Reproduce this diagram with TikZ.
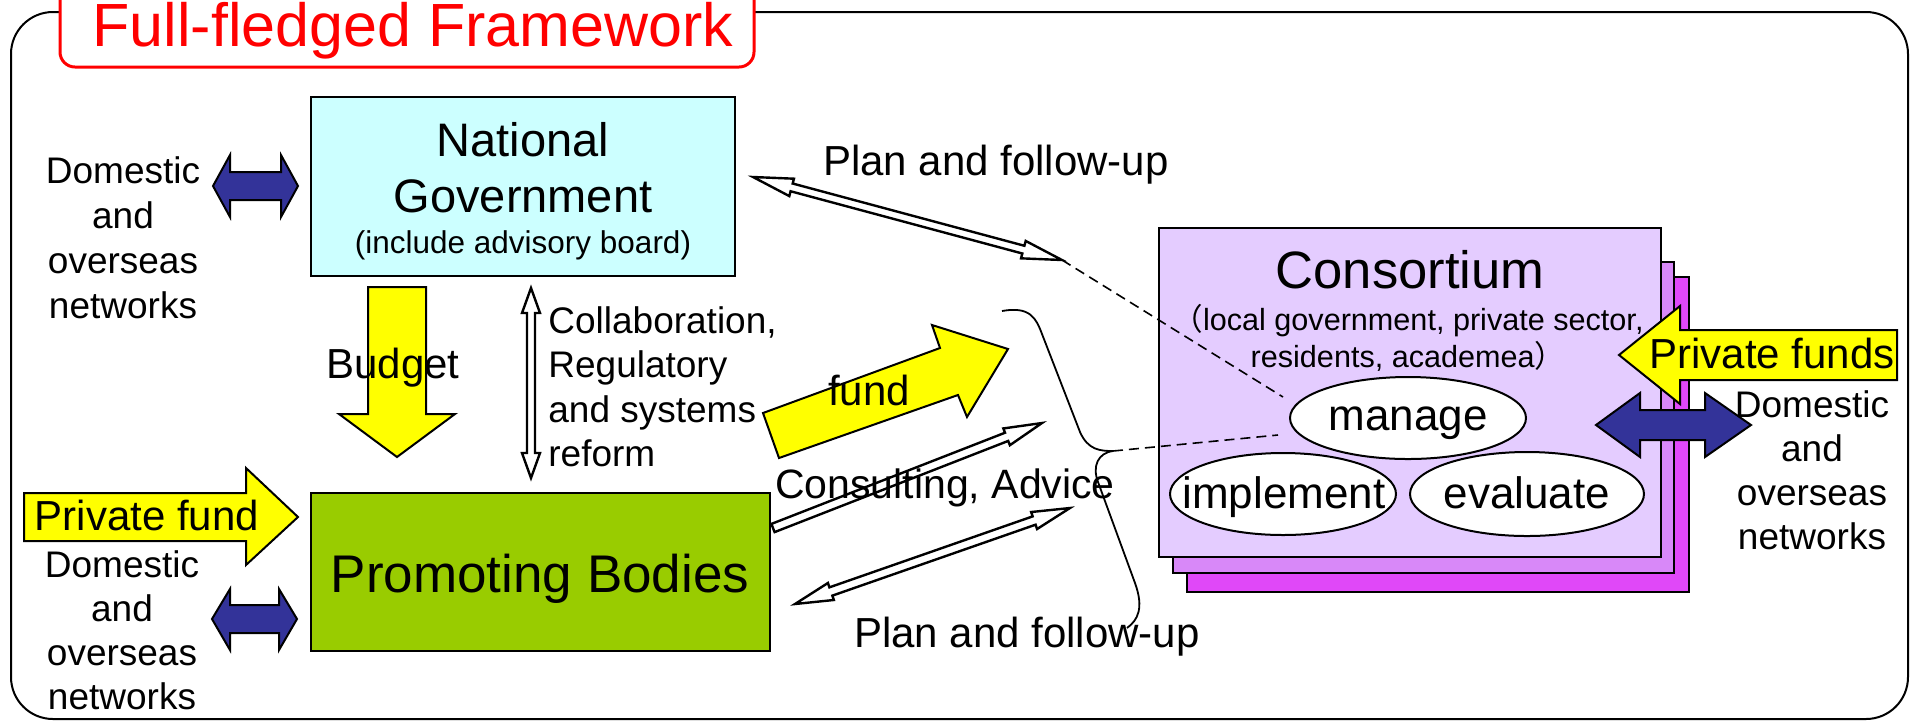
\documentclass[tikz,border=0pt]{standalone}
\usepackage{fontspec}
\setmainfont{Liberation Sans}
\newfontfamily\cjkfont{Noto Sans CJK JP}
\usetikzlibrary{calc,shapes.geometric}
\newcommand\fsz[2]{\fontsize{#1}{#2}\selectfont}
\newcommand\stk[2]{\begin{tabular}[t]{@{}#1@{}}#2\end{tabular}}
\definecolor{ngcyan}{HTML}{CCFFFF}
\definecolor{pbgreen}{HTML}{99CC00}
\definecolor{arrowyellow}{HTML}{FFFF00}
\definecolor{netblue}{HTML}{333399}
\definecolor{conA}{HTML}{E4CCFF}
\definecolor{conB}{HTML}{D888F8}
\definecolor{conC}{HTML}{E048F8}
\tikzset{
  frameline/.style={draw=black, line width=1pt, rounded corners=21pt},
  titlebox/.style={draw=red, line width=1.5pt, fill=white, rounded corners=7.5pt, inner sep=0},
  boxn/.style={draw=black, line width=1pt, inner sep=0},
  ellip/.style={ellipse, draw=black, line width=1pt, fill=white, inner sep=0},
  solidarrow/.style={draw=black, line width=1pt, line join=miter},
  hollow/.style={draw=black, fill=white, line width=1.2pt, line join=miter},
  dashln/.style={draw=black, line width=0.8pt, dash pattern=on 5pt off 3pt},
  bracestyle/.style={draw=black, line width=0.9pt},
  lbl/.style={anchor=base, inner sep=0, text=black},
}
% double-headed hollow arrow: #1,#2 end points, #3 head length, #4 head half width, #5 shaft half width
\newcommand\dblhollow[5]{%
  \coordinate (ha1) at ($(#1)!#3!(#2)$);
  \coordinate (hb1) at ($(#2)!#3!(#1)$);
  \draw[hollow] (#1) -- ($(ha1)!#4!90:(#2)$) -- ($(ha1)!#5!90:(#2)$)
    -- ($(hb1)!#5!-90:(#1)$) -- ($(hb1)!#4!-90:(#1)$) -- (#2)
    -- ($(hb1)!#4!90:(#1)$) -- ($(hb1)!#5!90:(#1)$)
    -- ($(ha1)!#5!-90:(#2)$) -- ($(ha1)!#4!-90:(#2)$) -- cycle;}
% single-headed hollow arrow from #1 (flat tail) to #2 (tip)
\newcommand\sglhollow[5]{%
  \coordinate (hb1) at ($(#2)!#3!(#1)$);
  \draw[hollow] ($(#1)!#5!90:(#2)$) -- ($(hb1)!#5!-90:(#1)$) -- ($(hb1)!#4!-90:(#1)$) -- (#2)
    -- ($(hb1)!#4!90:(#1)$) -- ($(hb1)!#5!90:(#1)$) -- ($(#1)!#5!-90:(#2)$) -- cycle;}
\begin{document}
\begin{tikzpicture}[x=0.5pt,y=-0.5pt]
\useasboundingbox (0,0) rectangle (1912,720);
% outer frame
\draw[frameline] (11,12) rectangle (1908,719);
% title
\node[titlebox, minimum width=347pt, minimum height=43.5pt] (titlebox) at (407,23.5) {};
\node[lbl, text=red] (title) at (413,46) {\fsz{30.5}{36}Full-fledged Framework};

% National Government
\node[boxn, fill=ngcyan, minimum width=212pt, minimum height=89.5pt] (ng) at (523,186.5) {};
\node[lbl] (ngname) at (523,156) {\fsz{23.5}{28}\stk{c}{National\\Government}};
\node[lbl] (ngsub) at (523,253) {\fsz{15.75}{19}(include advisory board)};

% Promoting Bodies
\node[boxn, fill=pbgreen, minimum width=229.5pt, minimum height=79pt] (pb) at (540.5,572) {};
\node[lbl] (pbname) at (540,592) {\fsz{26.5}{32}Promoting Bodies};

% Consortium stack
\node[boxn, fill=conC, minimum width=251pt, minimum height=157.5pt] (consC) at (1438,434.5) {};
\node[boxn, fill=conB, minimum width=250.5pt, minimum height=155.5pt] (consB) at (1423.5,417.5) {};
\node[boxn, fill=conA, minimum width=251pt, minimum height=164.5pt] (cons) at (1410,392.5) {};
\node[lbl] (consname) at (1410,288) {\fsz{26.3}{32}Consortium};
\node[lbl] (conssub) at (1408,330) {\fsz{15.3}{18.5}\stk{c}{{\cjkfont （}local government, private sector,\\residents, academea{\cjkfont ）}}};

% ellipses
\node[ellip, minimum width=118pt, minimum height=41pt] (manage) at (1408,418) {};
\node[lbl] (managetxt) at (1408,430) {\fsz{22}{26}manage};
\node[ellip, minimum width=113pt, minimum height=41pt] (implement) at (1283,494) {};
\node[lbl] (implementtxt) at (1284,508) {\fsz{22}{26}implement};
\node[ellip, minimum width=117pt, minimum height=42pt] (evaluate) at (1527,494) {};
\node[lbl] (evaluatetxt) at (1527,508) {\fsz{22}{26}evaluate};

% yellow arrows
\draw[solidarrow, fill=arrowyellow] (368,287) -- (426,287) -- (426,414) -- (455,414) -- (397,457) -- (339,414) -- (368,414) -- cycle;
\draw[solidarrow, fill=arrowyellow] (763,413) -- (940,348) -- (932,325) -- (1008,349) -- (967,417) -- (958,395) -- (779,458) -- cycle;
\draw[solidarrow, fill=arrowyellow] (24,493) -- (246,493) -- (246,468) -- (298,517) -- (246,565) -- (246,541) -- (24,541) -- cycle;
\draw[solidarrow, fill=arrowyellow] (1619,355) -- (1680,306) -- (1680,330) -- (1897,330) -- (1897,380) -- (1680,380) -- (1680,404) -- cycle;

% blue network arrows
\draw[solidarrow, fill=netblue] (213,186) -- (230,155) -- (230,172) -- (281,172) -- (281,155) -- (298,186) -- (281,217) -- (281,200) -- (230,200) -- (230,217) -- cycle;
\draw[solidarrow, fill=netblue] (212,619) -- (230,589) -- (230,605) -- (279,605) -- (279,589) -- (297,619) -- (279,650) -- (279,633) -- (230,633) -- (230,650) -- cycle;
\draw[solidarrow, fill=netblue] (1596,425) -- (1640,393) -- (1640,410) -- (1705,410) -- (1705,393) -- (1751,425) -- (1705,457) -- (1705,440) -- (1640,440) -- (1640,457) -- cycle;

% hollow arrows
\coordinate (planA) at (753,177);
\coordinate (planB) at (1062,260);
\coordinate (collA) at (531,288);
\coordinate (collB) at (531,478);
\coordinate (cnsT) at (773,528);
\coordinate (cnsH) at (1042,423);
\coordinate (plbA) at (795,604);
\coordinate (plbB) at (1070,508);
\dblhollow{planA}{planB}{20pt}{4.5pt}{2pt}
\dblhollow{collA}{collB}{12.5pt}{4.5pt}{2pt}
\sglhollow{cnsT}{cnsH}{19pt}{4.5pt}{2.2pt}
\dblhollow{plbA}{plbB}{19pt}{4.5pt}{2.2pt}

% dashed links and brace
\coordinate (bracetip) at (1113,451);
\coordinate (dashEndA) at (1283,397);
\coordinate (dashEndB) at (1278,435);
\draw[dashln] (planB) -- (dashEndA);
\draw[dashln] (bracetip) -- (dashEndB);
\draw[bracestyle] (1002,311) .. controls (1030,306) and (1036,318) .. (1042,334) -- (1080,432)
  .. controls (1088,450) and (1100,451) .. (bracetip)
  .. controls (1098,453) and (1092,466) .. (1098,482) -- (1135,583)
  .. controls (1144,608) and (1138,620) .. (1127,628);

% labels
\node[lbl] (domL1) at (123,183) {\fsz{18.5}{22.5}\stk{c}{Domestic\\and\\overseas\\networks}};
\node[lbl] (domL2) at (122,577) {\fsz{18.5}{22}\stk{c}{Domestic\\and\\overseas\\networks}};
\node[lbl] (domR) at (1812,417) {\fsz{18.5}{22}\stk{c}{Domestic\\and\\overseas\\networks}};
\node[lbl, anchor=base west] (coll) at (548,333) {\fsz{18.5}{22.3}\stk{l}{Collaboration,\\Regulatory\\and systems\\reform}};
\node[lbl] (budget) at (393,378) {\fsz{21}{25}Budget};
\node[lbl] (fund) at (869,405) {\fsz{21}{25}fund};
\node[lbl] (planT) at (996,175) {\fsz{21}{25}Plan and follow-up};
\node[lbl] (planBl) at (1027,647) {\fsz{21}{25}Plan and follow-up};
\node[lbl] (consult) at (945,498) {\fsz{20.5}{25}Consulting, Advice};
\node[lbl] (pfund) at (147,530) {\fsz{21}{25}Private fund};
\node[lbl] (pfunds) at (1772,368) {\fsz{21}{25}Private funds};
\end{tikzpicture}
\end{document}
